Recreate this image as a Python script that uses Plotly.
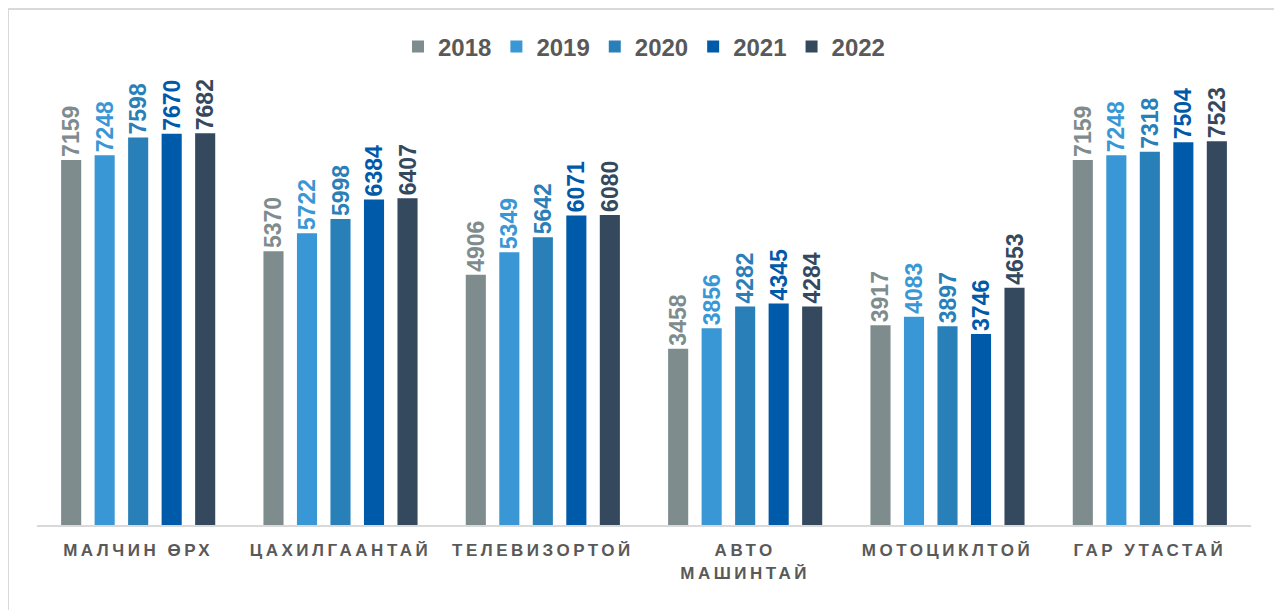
import plotly.graph_objects as go

categories = ["МАЛЧИН ӨРХ", "ЦАХИЛГААНТАЙ", "ТЕЛЕВИЗОРТОЙ", "АВТО<br>МАШИНТАЙ", "МОТОЦИКЛТОЙ", "ГАР УТАСТАЙ"]
years = ["2018", "2019", "2020", "2021", "2022"]
v2018 = [7159, 5370, 4906, 3458, 3917, 7159]
v2019 = [7248, 5722, 5349, 3856, 4083, 7248]
v2020 = [7598, 5998, 5642, 4282, 3897, 7318]
v2021 = [7670, 6384, 6071, 4345, 3746, 7504]
v2022 = [7682, 6407, 6080, 4284, 4653, 7523]
series = [v2018, v2019, v2020, v2021, v2022]
colors = ["#7F8C8D", "#3A97D5", "#2980B9", "#005AAA", "#34495E"]

FONT = "Liberation Sans, Arial, sans-serif"

fig = go.Figure()
for name, vals, col in zip(years, series, colors):
    fig.add_trace(go.Bar(
        x=categories, y=vals, name=name,
        marker=dict(color=col, line=dict(width=0)),
        text=[str(v) for v in vals],
        textposition="outside",
        textangle=-90,
        constraintext="none",
        textfont=dict(family=FONT, size=23, color=col, weight="bold"),
        cliponaxis=False,
    ))

W, H = 1282, 610
L, R, T, B = 29, 39, 58, 93
pw = W - L - R
ph = H - T - B

def px(p):
    return (p - L) / pw

def py(p):
    return (H - B - p) / ph

fig.update_layout(
    width=W, height=H,
    margin=dict(l=L, r=R, t=T, b=B, autoexpand=False),
    paper_bgcolor="white", plot_bgcolor="white",
    barmode="group", bargap=0.172, bargroupgap=0.4,
    legend=dict(
        orientation="h", x=0.5, xanchor="center", y=py(39), yanchor="middle",
        font=dict(family=FONT, size=24, color="#595959", weight="bold"),
        itemwidth=30, traceorder="normal",
    ),
    xaxis=dict(
        showline=True, linecolor="#D9D9D9", linewidth=2,
        ticks="", tickfont=dict(family=FONT, size=17, color="#595959", weight="bold"),
        ticklabelstandoff=9,
        showgrid=False,
    ),
    yaxis=dict(range=[0, 9000], visible=False, showgrid=False),
    shapes=[dict(
        type="rect", xref="paper", yref="paper",
        x0=px(0), x1=px(1270), y0=py(H + 10), y1=py(1),
        line=dict(color="#D9D9D9", width=2), fillcolor="rgba(0,0,0,0)", layer="below",
    )],
)

post = """
function ls(){document.querySelectorAll('.xtick text').forEach(function(t){t.style.letterSpacing='3.5px';});}
ls();
var gd=document.getElementById('{plot_id}');
if(gd && gd.on){gd.on('plotly_afterplot', ls);}
"""

fig.write_html("out.html", post_script=post)
